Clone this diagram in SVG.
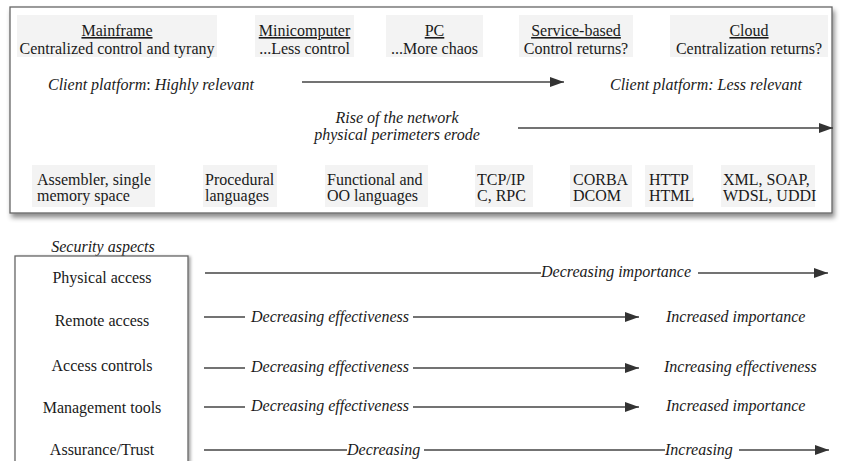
<svg xmlns="http://www.w3.org/2000/svg" width="842" height="461" viewBox="0 0 842 461">
<defs>
<filter id="shadow" x="-5%" y="-5%" width="115%" height="120%">
<feDropShadow dx="2" dy="4" stdDeviation="2.5" flood-color="#000" flood-opacity="0.45"/>
</filter>
<filter id="shadow2" x="-10%" y="-5%" width="130%" height="115%">
<feDropShadow dx="2" dy="1" stdDeviation="1.5" flood-color="#000" flood-opacity="0.35"/>
</filter>
<marker id="ah" markerUnits="userSpaceOnUse" markerWidth="15" markerHeight="12" refX="14" refY="6" orient="auto">
<path d="M0,1 L14,6 L0,11 Z" fill="#333"/>
</marker>
</defs>
<style>
text{font-family:"Liberation Serif","Times New Roman","DejaVu Serif",serif;font-size:16px;fill:#1a1a1a}
.it{font-style:italic}
.c{text-anchor:middle}
.u{text-decoration:underline}
.lab{fill:#f3f3f3}
.ln{stroke:#444;stroke-width:1.5;fill:none}
.frame{fill:#fff;stroke:#666;stroke-width:1.3}
</style>

<g id="top-panel">
<rect class="frame" x="10" y="7" width="822" height="206" filter="url(#shadow)"/>
</g>

<g id="era-mainframe">
<rect class="lab" x="17" y="15" width="200" height="42"/>
<text class="c u" x="117" y="36">Mainframe</text>
<text class="c" x="117" y="54">Centralized control and tyrany</text>
</g>
<g id="era-minicomputer">
<rect class="lab" x="255" y="15" width="99" height="42"/>
<text class="c u" x="304.5" y="36">Minicomputer</text>
<text class="c" x="304.5" y="54">...Less control</text>
</g>
<g id="era-pc">
<rect class="lab" x="386" y="15" width="97" height="42"/>
<text class="c u" x="434.5" y="36">PC</text>
<text class="c" x="434.5" y="54">...More chaos</text>
</g>
<g id="era-service">
<rect class="lab" x="519" y="15" width="114" height="42"/>
<text class="c u" x="576" y="36">Service-based</text>
<text class="c" x="576" y="54">Control returns?</text>
</g>
<g id="era-cloud">
<rect class="lab" x="670" y="15" width="158" height="42"/>
<text class="c u" x="749" y="36">Cloud</text>
<text class="c" x="749" y="54">Centralization returns?</text>
</g>

<g id="client-platform">
<text class="it" x="48" y="90">Client platform<tspan font-style="normal">:</tspan> Highly relevant</text>
<text class="it" x="610" y="90">Client platform: Less relevant</text>
</g>
<g id="network-rise">
<text class="it c" x="397" y="123">Rise of the network</text>
<text class="it c" x="397" y="140">physical perimeters erode</text>
</g>

<g id="tech-assembler">
<rect class="lab" x="32" y="165" width="123" height="42"/>
<text x="37" y="185">Assembler, single</text>
<text x="37" y="201">memory space</text>
</g>
<g id="tech-procedural">
<rect class="lab" x="203" y="165" width="74" height="42"/>
<text x="205" y="185">Procedural</text>
<text x="205" y="201">languages</text>
</g>
<g id="tech-functional">
<rect class="lab" x="325" y="165" width="103" height="42"/>
<text x="327" y="185">Functional and</text>
<text x="327" y="201">OO languages</text>
</g>
<g id="tech-tcpip">
<rect class="lab" x="475" y="165" width="58" height="42"/>
<text x="477" y="185">TCP/IP</text>
<text x="477" y="201">C, RPC</text>
</g>
<g id="tech-corba">
<rect class="lab" x="570" y="165" width="62" height="42"/>
<text x="573" y="185">CORBA</text>
<text x="573" y="201">DCOM</text>
</g>
<g id="tech-http">
<rect class="lab" x="645" y="165" width="48" height="42"/>
<text x="649" y="185">HTTP</text>
<text x="649" y="201">HTML</text>
</g>
<g id="tech-xml">
<rect class="lab" x="721" y="165" width="94" height="42"/>
<text x="723" y="185">XML, SOAP,</text>
<text x="723" y="201">WDSL, UDDI</text>
</g>

<g id="security-aspects">
<text class="it c" x="103" y="252">Security aspects</text>
<rect class="frame" x="15" y="256" width="173" height="220" filter="url(#shadow2)"/>
<text class="c" x="102" y="283">Physical access</text>
<text class="c" x="102" y="326">Remote access</text>
<text class="c" x="102" y="371">Access controls</text>
<text class="c" x="102" y="413">Management tools</text>
<text class="c" x="102" y="455">Assurance/Trust</text>
</g>

<g id="trend-labels">
<text class="it" x="541" y="277">Decreasing importance</text>
<text class="it" x="251" y="322">Decreasing effectiveness</text>
<text class="it" x="666" y="322">Increased importance</text>
<text class="it" x="251" y="372">Decreasing effectiveness</text>
<text class="it" x="664" y="372">Increasing effectiveness</text>
<text class="it" x="251" y="411">Decreasing effectiveness</text>
<text class="it" x="666" y="411">Increased importance</text>
<text class="it" x="347" y="455">Decreasing</text>
<text class="it" x="665" y="455">Increasing</text>
</g>

<g id="connectors">
<line class="ln" x1="302" y1="82" x2="564" y2="82" marker-end="url(#ah)"/>
<line class="ln" x1="518" y1="128" x2="833" y2="128" marker-end="url(#ah)"/>

<line class="ln" x1="205" y1="273" x2="541" y2="273"/>
<line class="ln" x1="698" y1="273" x2="828" y2="273" marker-end="url(#ah)"/>

<line class="ln" x1="204" y1="317" x2="245" y2="317"/>
<line class="ln" x1="413" y1="317" x2="639" y2="317" marker-end="url(#ah)"/>

<line class="ln" x1="204" y1="368" x2="245" y2="368"/>
<line class="ln" x1="413" y1="368" x2="639" y2="368" marker-end="url(#ah)"/>

<line class="ln" x1="204" y1="407" x2="245" y2="407"/>
<line class="ln" x1="413" y1="407" x2="639" y2="407" marker-end="url(#ah)"/>

<line class="ln" x1="204" y1="450" x2="347" y2="450"/>
<line class="ln" x1="424" y1="450" x2="665" y2="450"/>
<line class="ln" x1="739" y1="450" x2="829" y2="450" marker-end="url(#ah)"/>
</g>
</svg>
